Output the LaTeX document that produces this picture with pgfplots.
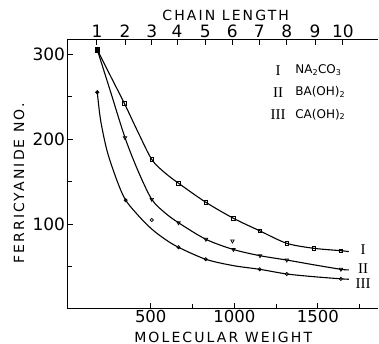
\documentclass[border=0pt]{standalone}
\usepackage{pgfplots}
\pgfplotsset{compat=1.18}
\usepackage{fontspec}
\setmainfont{DejaVu Sans}
\newfontfamily\romanfont{Liberation Serif}
\newfontfamily\lab[LetterSpace=15]{DejaVu Sans}
\begin{document}
\begin{tikzpicture}
\path[use as bounding box] (0,0) rectangle (379pt,344pt);
\begin{axis}[
  at={(67.2pt,35pt)}, anchor=south west,
  scale only axis, width=310.8pt, height=269pt,
  xmin=0, xmax=1860, ymin=0, ymax=316.5,
  axis x line*=bottom, axis y line*=left,
  axis line style={line width=1pt, -},
  tick align=inside,
  xtick={500,1000,1500}, minor xtick={750,1250,1750},
  ytick={100,200,300}, minor ytick={50,150,250},
  major tick length=6pt, minor tick length=5pt,
  every tick/.style={line width=0.9pt, black},
  /pgf/number format/assume math mode=true,
  /pgf/number format/set thousands separator={},
  tick label style={font=\fontsize{17}{17}\selectfont},
  yticklabel style={inner xsep=2pt},
  xticklabel style={inner ysep=1pt, font=\fontsize{16.5}{16.5}\selectfont},
  xlabel={\lab\fontsize{14}{14}\selectfont MOLECULAR WEIGHT},
  ylabel={\lab\fontsize{14}{14}\selectfont FERRICYANIDE NO.},
  every axis x label/.style={at={(axis description cs:0.502,-0.104)}, anchor=center},
  every axis y label/.style={at={(axis description cs:-0.155,0.467)}, anchor=center, rotate=90},
  clip=false,
]
% curve I (Na2CO3)
\addplot[smooth, line width=1.1pt, black] coordinates {
(180,305)(262,273)(342,242)(424,208)(506,176)(580,161)(666,148)(830,125.5)(995,106.7)(1152,92)(1314,77.3)(1476,71.4)(1638,68.6)(1685,67.5)};
\addplot[only marks, mark=square, mark size=1.8pt, mark options={line width=0.7pt, fill=white}] coordinates {
(342,242)(506,176)(666,148)(830,125.5)(995,106.7)(1152,92)(1314,77.3)(1476,71.4)(1638,68.6)};
\addplot[only marks, mark=square*, mark size=2.2pt] coordinates {(180,305)};
% curve II (Ba(OH)2)
\addplot[smooth, line width=1.1pt, black] coordinates {
(180,305)(262,254)(346,201.5)(425,162)(506,129)(586,113)(666,101.5)(830,82)(995,70)(1154,62.7)(1314,57.6)(1476,52)(1638,46.7)(1685,46)};
\addplot[only marks, mark=triangle, mark size=2pt, mark options={rotate=180, line width=0.7pt, fill=white}] coordinates {
(346,201.5)(506,129)(666,101.5)(830,82)(989,80)(995,70)(1154,62.7)(1314,57.6)(1638,46.7)};
% curve III (Ca(OH)2)
\addplot[smooth, line width=1.1pt, black] coordinates {
(180,255)(200,222)(240,185)(300,150)(350,128)(430,109)(506,94)(586,82)(666,72.6)(829,58.5)(995,51)(1152,46.7)(1314,41.2)(1476,38)(1638,35.5)(1685,35)};
\addplot[only marks, mark=o, mark size=1.6pt, mark options={line width=0.7pt, fill=white}] coordinates {
(350,128)(506,104.7)(666,72.6)(829,58.5)(1152,46.7)(1314,41.2)(1638,35.5)};
\addplot[only marks, mark=*, mark size=1.8pt] coordinates {(180,255)};
% curve labels
\node[font=\romanfont\fontsize{15}{15}\selectfont] at (axis cs:1771,69.4) {I};
\node[font=\romanfont\fontsize{15}{15}\selectfont] at (axis cs:1771,47.9) {II};
\node[font=\romanfont\fontsize{15}{15}\selectfont] at (axis cs:1771,30.2) {III};
% legend
\node[font=\romanfont\fontsize{15}{15}\selectfont] at (axis cs:1262,281) {I};
\node[font=\romanfont\fontsize{15}{15}\selectfont] at (axis cs:1262,255) {II};
\node[font=\romanfont\fontsize{15}{15}\selectfont] at (axis cs:1262,229) {III};
\node[anchor=west, inner xsep=0pt, font=\fontsize{12}{12}\selectfont] at (axis cs:1364,281) {NA\textsubscript{2}CO\textsubscript{3}};
\node[anchor=west, inner xsep=0pt, font=\fontsize{12}{12}\selectfont] at (axis cs:1364,255) {BA(OH)\textsubscript{2}};
\node[anchor=west, inner xsep=0pt, font=\fontsize{12}{12}\selectfont] at (axis cs:1364,229) {CA(OH)\textsubscript{2}};
\end{axis}
\begin{axis}[
  at={(67.2pt,35pt)}, anchor=south west,
  scale only axis, width=310.8pt, height=269pt,
  xmin=0, xmax=1860, ymin=0, ymax=316.5,
  axis x line*=top, axis y line=none,
  axis line style={line width=1pt, -},
  tick align=inside,
  xtick={178,346,506,658,826,988,1150,1314,1483,1650},
  xticklabels={1,2,3,4,5,6,7,8,9,10},
  ytick=\empty,
  major tick length=5pt,
  every tick/.style={line width=0.9pt, black},
  /pgf/number format/assume math mode=true,
  tick label style={font=\fontsize{17}{17}\selectfont},
  xticklabel style={inner ysep=2pt},
  xlabel={\lab\fontsize{14}{14}\selectfont CHAIN LENGTH},
  every axis x label/.style={at={(axis description cs:0.51,1.093)}, anchor=center},
]
\end{axis}
\end{tikzpicture}
\end{document}
